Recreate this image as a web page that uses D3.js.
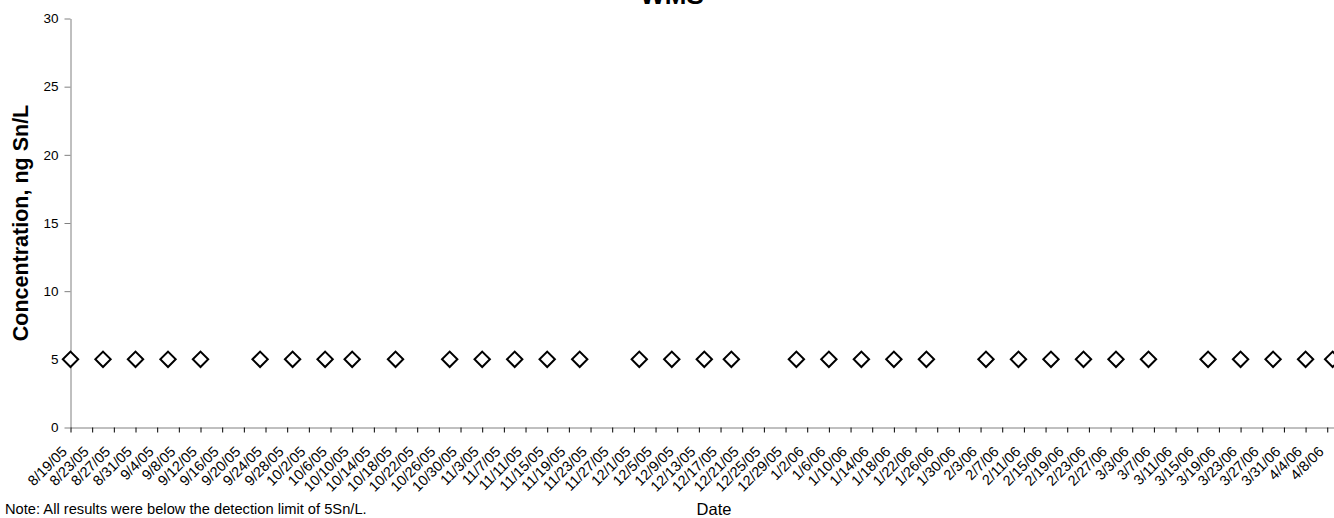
<!DOCTYPE html>
<html>
<head>
<meta charset="utf-8">
<script src="https://cdn.jsdelivr.net/npm/d3@7"></script>
<style>
  html, body { margin: 0; padding: 0; background: #fff; }
  svg { display: block; font-family: "Liberation Sans", Arial, sans-serif; }
</style>
</head>
<body>
<svg id="chart" width="1334" height="518"></svg>
<script>
const sampleDates = ["8/19/05","8/25/05","8/31/05","9/6/05","9/12/05","9/23/05","9/29/05","10/5/05","10/10/05",
  "10/18/05","10/28/05","11/3/05","11/9/05","11/15/05","11/21/05","12/2/05","12/8/05","12/14/05","12/19/05",
  "12/31/05","1/6/06","1/12/06","1/18/06","1/24/06","2/4/06","2/10/06","2/16/06","2/22/06","2/28/06","3/6/06",
  "3/17/06","3/23/06","3/29/06","4/4/06","4/9/06"];
const concentrations = [5,5,5,5,5,5,5,5,5,5,5,5,5,5,5,5,5,5,5,5,5,5,5,5,5,5,5,5,5,5,5,5,5,5,5];
const xTickLabels = ["8/19/05","8/23/05","8/27/05","8/31/05","9/4/05","9/8/05","9/12/05","9/16/05","9/20/05","9/24/05",
  "9/28/05","10/2/05","10/6/05","10/10/05","10/14/05","10/18/05","10/22/05","10/26/05","10/30/05","11/3/05",
  "11/7/05","11/11/05","11/15/05","11/19/05","11/23/05","11/27/05","12/1/05","12/5/05","12/9/05","12/13/05",
  "12/17/05","12/21/05","12/25/05","12/29/05","1/2/06","1/6/06","1/10/06","1/14/06","1/18/06","1/22/06",
  "1/26/06","1/30/06","2/3/06","2/7/06","2/11/06","2/15/06","2/19/06","2/23/06","2/27/06","3/3/06",
  "3/7/06","3/11/06","3/15/06","3/19/06","3/23/06","3/27/06","3/31/06","4/4/06","4/8/06"];
const yTicks = [0,5,10,15,20,25,30];
const xDomain = ["8/19/05","4/10/06"];
const titleText = "WMS";
const yTitle = "Concentration, ng Sn/L";
const xTitle = "Date";
const noteText = "Note: All results were below the detection limit of 5Sn/L.";

const parse = d3.utcParse("%m/%d/%y");
const svg = d3.select("#chart");

const x0 = 70.5, pxPerDay = 5.417;
const xd = xDomain.map(parse);
const nDays = (xd[1] - xd[0]) / 864e5;
const x = d3.scaleUtc().domain(xd).range([x0, x0 + nDays * pxPerDay]);
const y = d3.scaleLinear().domain([0, 30]).range([427.5, 18.5]);

// Y axis
const yAxis = svg.append("g").attr("transform", `translate(${x0},0)`)
  .call(d3.axisLeft(y).tickValues(yTicks).tickSize(6).tickSizeOuter(0).tickPadding(6));
yAxis.select(".domain").attr("stroke", "#808080");
yAxis.selectAll(".tick line").attr("stroke", "#808080");
yAxis.selectAll(".tick text").attr("font-size", 13.5).attr("fill", "#000")
  .attr("font-family", "Liberation Sans, Arial, sans-serif");

// X axis
const xAxis = svg.append("g").attr("transform", `translate(0,${y(0)})`)
  .call(d3.axisBottom(x).tickValues(xTickLabels.map(parse)).tickSize(5).tickSizeOuter(0)
    .tickFormat((d, i) => xTickLabels[i]));
xAxis.select(".domain").attr("stroke", "#808080");
xAxis.selectAll(".tick line").attr("stroke", "#000");
xAxis.selectAll(".tick text")
  .attr("font-size", 14.5).attr("fill", "#000")
  .attr("font-family", "Liberation Sans, Arial, sans-serif")
  .attr("text-anchor", "end")
  .attr("dy", 0)
  .attr("y", 0)
  .attr("transform", "translate(-3,25) rotate(-45)");

// Markers
const diamond = d3.symbol().type(d3.symbolSquare).size(118);
svg.append("g").selectAll("path")
  .data(sampleDates.map((d, i) => ({ date: parse(d), v: concentrations[i] })))
  .join("path")
  .attr("d", diamond)
  .attr("transform", d => `translate(${x(d.date)},${y(d.v)}) rotate(45)`)
  .attr("fill", "#fff")
  .attr("stroke", "#000")
  .attr("stroke-width", 2);

// Titles
svg.append("text").attr("x", 672).attr("y", 4).attr("text-anchor", "middle")
  .attr("font-size", 26).attr("font-weight", "bold").text(titleText);
svg.append("text").attr("transform", `translate(28,${(y(0) + y(30)) / 2}) rotate(-90)`)
  .attr("text-anchor", "middle").attr("font-size", 21.5).attr("font-weight", "bold").text(yTitle);
svg.append("text").attr("x", 714).attr("y", 515).attr("text-anchor", "middle")
  .attr("font-size", 16.5).text(xTitle);
svg.append("text").attr("x", 5).attr("y", 514).attr("font-size", 14.7).text(noteText);
</script>
</body>
</html>
